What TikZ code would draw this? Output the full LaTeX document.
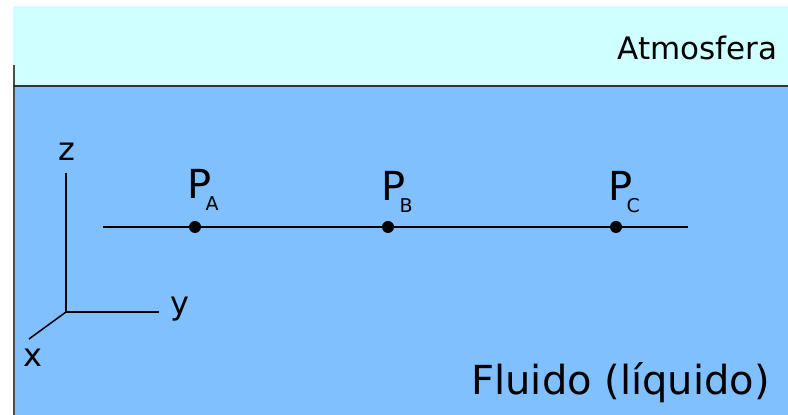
\documentclass[tikz,border=0pt]{standalone}
\usepackage{fontspec}
\setmainfont{DejaVu Sans}
\definecolor{ar}{RGB}{208,255,255}
\definecolor{fluido}{RGB}{128,192,255}
\newcommand{\ponto}[1]{P\kern-3pt\raisebox{-6pt}{\fontsize{9.5}{10}\selectfont #1}}

\begin{document}
\begin{tikzpicture}[x=0.5pt,y=-0.5pt,
  pto/.style={circle,fill,inner sep=0pt,minimum size=6pt},
  rot/.style={inner sep=0pt,anchor=base west,font=\fontsize{20}{22}\selectfont},
  eixo/.style={inner sep=0pt,font=\fontsize{16}{18}\selectfont}]
  \useasboundingbox (0,0) rectangle (788,415);
  \fill[ar] (13,6) rectangle (788,86);
  \fill[fluido] (13,86) rectangle (788,415);
  \draw[line width=1pt,black!70] (14,65) -- (14,415);
  \draw[line width=1pt,black!80] (13,86) -- (788,86);
  \node[inner sep=0pt,anchor=base east,font=\fontsize{15.5}{17}\selectfont] (atm) at (778,60) {Atmosfera};
  \node[inner sep=0pt,anchor=base west,font=\fontsize{20}{22}\selectfont] (liq) at (471,395) {Fluido (líquido)};

  \coordinate (o) at (66,312);
  \coordinate (z) at (66,173);
  \coordinate (y) at (159,312);
  \coordinate (x) at (29,339);
  \draw[line width=0.75pt] (z) -- (o) -- (y);
  \draw[line width=0.75pt] (o) -- (x);
  \node[eixo] (lz) at (67,152) {z};
  \node[eixo] (ly) at (180,309) {y};
  \node[eixo] (lx) at (33,358) {x};

  \coordinate (ini) at (103,227);
  \coordinate (fim) at (688,227);
  \draw[line width=0.75pt] (ini) -- (fim);
  \node[pto] (pa) at (195,227) {};
  \node[pto] (pb) at (388,227) {};
  \node[pto] (pc) at (616,227) {};
  \node[rot] (la) at (187,199) {\ponto{A}};
  \node[rot] (lb) at (381,201) {\ponto{B}};
  \node[rot] (lc) at (608,201) {\ponto{C}};
\end{tikzpicture}
\end{document}
